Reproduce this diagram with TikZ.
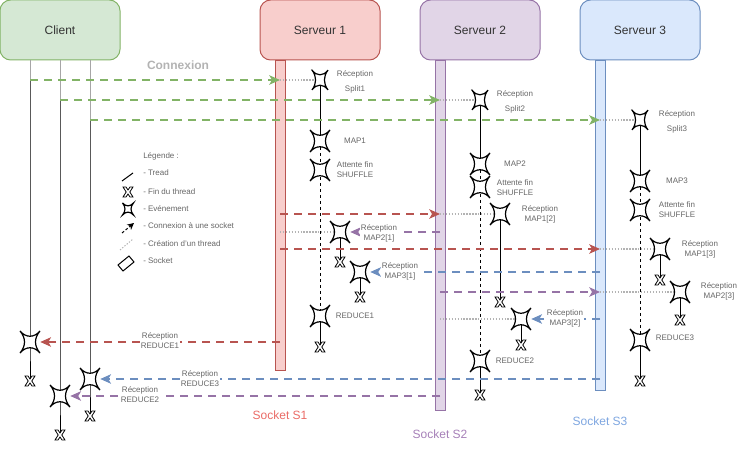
\documentclass[tikz,border=0pt]{standalone}
\usepackage{fontspec}
\setmainfont{Liberation Sans}
\usepackage{xcolor}
\usepackage{tikz}
\usetikzlibrary{arrows.meta}
\usetikzlibrary{positioning,calc}

\definecolor{cligreen}{HTML}{D5E8D4}
\definecolor{clistroke}{HTML}{82B366}
\definecolor{s1fill}{HTML}{F8CECC}
\definecolor{s1stroke}{HTML}{B85450}
\definecolor{s2fill}{HTML}{E1D5E7}
\definecolor{s2stroke}{HTML}{9673A6}
\definecolor{s3fill}{HTML}{DAE8FC}
\definecolor{s3stroke}{HTML}{6C8EBF}
\definecolor{dotgrey}{HTML}{B3B3B3}
\definecolor{txtgrey}{HTML}{666666}
\definecolor{s1txt}{HTML}{EA6B66}
\definecolor{s2txt}{HTML}{A680B8}
\definecolor{s3txt}{HTML}{7EA6E0}

\tikzset{
	actor/.style={draw, rounded corners=8pt, minimum width=90pt, minimum height=45pt, line width=0.75pt, font=\fontsize{9pt}{11pt}\selectfont, text=black!80},
	sockbar/.style={draw, anchor=north, minimum width=7.5pt, inner sep=0pt, line width=0.75pt},
	evtn/.style={inner sep=0pt, minimum width=15pt, minimum height=16.5pt},
	endn/.style={inner sep=0pt, minimum size=7.5pt},
	lbl/.style={font=\fontsize{6pt}{7.5pt}\selectfont, text=txtgrey, align=center, inner sep=1pt},
	tlbl/.style={lbl, fill=white},
	lgd/.style={font=\fontsize{6pt}{7.5pt}\selectfont, text=txtgrey, anchor=west, inner sep=0pt},
	conn/.style={line width=1.5pt, dash pattern=on 6pt off 4.5pt, -{Stealth[length=8pt,width=7pt,inset=2pt]}},
	spawn/.style={dotgrey, line width=1.1pt, dash pattern=on 1pt off 1.2pt},
	thread/.style={line width=0.75pt},
	wait/.style={line width=0.75pt, dash pattern=on 2.25pt off 2.25pt},
	evt/.pic={\draw[fill=white, line width=0.9pt] (-10,-11) .. controls (-4,-4) and (4,-4) .. (10,-11) .. controls (4,-4) and (4,4) .. (10,11) .. controls (4,4) and (-4,4) .. (-10,11) .. controls (-4,4) and (-4,-4) .. cycle;},
	fin/.pic={\draw[fill=white, line width=0.6pt] (-5,-5) -- (-2,-5) -- (0,-2) -- (2,-5) -- (5,-5) -- (1.8,0) -- (5,5) -- (2,5) -- (0,2) -- (-2,5) -- (-5,5) -- (-1.8,0) -- cycle;},
}

\begin{document}
\begin{tikzpicture}[x=0.75pt, y=-0.75pt]
	\useasboundingbox (0,0) rectangle (751,452);
	% acteurs et sockets
	\node[actor, fill=cligreen, draw=clistroke] (client) at (60,30) {Client};
	\node[actor, fill=s1fill, draw=s1stroke] (srv1) at (320,30) {Serveur 1};
	\node[actor, fill=s2fill, draw=s2stroke] (srv2) at (480,30) {Serveur 2};
	\node[actor, fill=s3fill, draw=s3stroke] (srv3) at (640,30) {Serveur 3};
	\node[sockbar, fill=s1fill, draw=s1stroke, minimum height=232.5pt] (sock1) at (280,60) {};
	\node[sockbar, fill=s2fill, draw=s2stroke, minimum height=262.5pt] (sock2) at (440,60) {};
	\node[sockbar, fill=s3fill, draw=s3stroke, minimum height=247.5pt] (sock3) at (600,60) {};
	\coordinate (t1) at (30,80);
	\coordinate (t2) at (60,100);
	\coordinate (t3) at (90,120);
	% evenements
	\foreach \n/\x/\y in {rr1/30/342, rr2/60/396, rr3/90/379,
		sp1/320/80, map1/320/141, att1/320/170, red1/320/316, rm21/340/232, rm31/360/272,
		sp2/480/100, map2/480/164, att2/480/187, red2/480/361, rm12/500/214, rm32/521/319,
		sp3/640/120, map3/640/181, att3/640/210, red3/640/340, rm13/660/249, rm23/680/292}
		\node[evtn] (\n) at (\x,\y) {};
	\foreach \n/\x/\y in {fc1/30/381, fc2/60/435, fc3/90/416,
		f1/320/347, f21/340/262, f31/360/297,
		f2/480/395, f12/500/302, f32/521/345,
		f3/640/381, f13/660/280, f23/680/320}
		\node[endn] (\n) at (\x,\y) {};
	% threads
	\draw[thread, gray!70] (client.south -| t1) -- (t1);
	\draw[thread, gray!70] (client.south -| t2) -- (t2);
	\draw[thread, gray!70] (client.south -| t3) -- (t3);
	\draw[thread] (t1) -- (rr1.center) -- (fc1.center);
	\draw[thread] (t2) -- (rr2.center) -- (fc2.center);
	\draw[thread] (t3) -- (rr3.center) -- (fc3.center);
	\draw[thread] (sp1.center) -- (map1.center);
	\draw[wait] (map1.center) -- (att1.center) -- (red1.center);
	\draw[thread] (red1.center) -- (f1.center);
	\draw[thread] (rm21.center) -- (f21.center);
	\draw[thread] (rm31.center) -- (f31.center);
	\draw[thread] (sp2.center) -- (map2.center);
	\draw[wait] (map2.center) -- (att2.center) -- (red2.center);
	\draw[thread] (red2.center) -- (f2.center);
	\draw[thread] (rm12.center) -- (f12.center);
	\draw[thread] (rm32.center) -- (f32.center);
	\draw[thread] (sp3.center) -- (map3.center);
	\draw[wait] (map3.center) -- (att3.center) -- (red3.center);
	\draw[thread] (red3.center) -- (f3.center);
	\draw[thread] (rm13.center) -- (f13.center);
	\draw[thread] (rm23.center) -- (f23.center);
	% creation des threads
	\draw[spawn] (sp1 -| sock1) -- (sp1.center);
	\draw[spawn] (rm21 -| sock1) -- (rm21.center);
	\draw[spawn] (sp2 -| sock2) -- (sp2.center);
	\draw[spawn] (rm12 -| sock2) -- (rm12.center);
	\draw[spawn] (rm32 -| sock2) -- (rm32.center);
	\draw[spawn] (sp3 -| sock3) -- (sp3.center);
	\draw[spawn] (rm13 -| sock3) -- (rm13.center);
	\draw[spawn] (rm23 -| sock3) -- (rm23.center);
	% connexions
	\draw[conn, clistroke] (t1) -- (t1 -| sock1);
	\draw[conn, clistroke] (t2) -- (t2 -| sock2);
	\draw[conn, clistroke] (t3) -- (t3 -| sock3);
	\draw[conn, s1stroke] (rm12 -| sock1) -- (rm12 -| sock2);
	\draw[conn, s1stroke] (rm13 -| sock1) -- (rm13 -| sock3);
	\draw[conn, s1stroke] (rr1 -| sock1) -- (rr1.east);
	\draw[conn, s2stroke] (rm21 -| sock2) -- (rm21.east);
	\draw[conn, s2stroke] (rm23 -| sock2) -- (rm23 -| sock3);
	\draw[conn, s2stroke] (rr2 -| sock2) -- (rr2.east);
	\draw[conn, s3stroke] (rm31 -| sock3) -- (rm31.east);
	\draw[conn, s3stroke] (rm32 -| sock3) -- (rm32.east);
	\draw[conn, s3stroke] (rr3 -| sock3) -- (rr3.east);
	% formes
	\foreach \n in {rr1,rr2,rr3,map1,att1,red1,rm21,rm31,map2,att2,red2,rm12,rm32,map3,att3,red3,rm13,rm23}
		\pic at (\n) {evt};
	\foreach \n in {sp1,sp2,sp3}
		\pic[xscale=0.8, yscale=0.9] at (\n) {evt};
	\foreach \n in {fc1,fc2,fc3,f1,f21,f31,f2,f12,f32,f3,f13,f23}
		\pic at (\n) {fin};
	% textes
	\node[lbl] (lsp1) at (355,82) {Réception\\[3.75pt]Split1};
	\node[lbl] (lmap1) at (355,141) {MAP1};
	\node[lbl] (latt1) at (355,170) {Attente fin\\SHUFFLE};
	\node[lbl] (lred1) at (355,316) {REDUCE1};
	\node[tlbl] (lrm21) at (379,233) {Réception\\MAP2[1]};
	\node[tlbl] (lrm31) at (400,271) {Réception\\MAP3[1]};
	\node[lbl] (lsp2) at (515,102) {Réception\\[3.75pt]Split2};
	\node[lbl] (lmap2) at (515,164) {MAP2};
	\node[lbl] (latt2) at (515,188) {Attente fin\\SHUFFLE};
	\node[lbl] (lred2) at (515,361) {REDUCE2};
	\node[lbl] (lrm12) at (540,214) {Réception\\MAP1[2]};
	\node[tlbl] (lrm32) at (565,318) {Réception\\MAP3[2]};
	\node[lbl] (lsp3) at (677,122) {Réception\\[3.75pt]Split3};
	\node[lbl] (lmap3) at (677,181) {MAP3};
	\node[lbl] (latt3) at (677,210) {Attente fin\\SHUFFLE};
	\node[lbl] (lred3) at (675,338) {REDUCE3};
	\node[lbl] (lrm13) at (700,249) {Réception\\MAP1[3]};
	\node[lbl] (lrm23) at (719,291) {Réception\\MAP2[3]};
	\node[tlbl] (lrr1) at (160,341) {Réception\\REDUCE1};
	\node[tlbl] (lrr3) at (200,379) {Réception\\REDUCE3};
	\node[tlbl] (lrr2) at (140,395) {Réception\\REDUCE2};
	\node[font=\bfseries\fontsize{9pt}{11pt}\selectfont, text=dotgrey] (cnx) at (178,65) {Connexion};
	\node[font=\fontsize{9pt}{11pt}\selectfont, text=s1txt] (ls1) at (280,415) {Socket S1};
	\node[font=\fontsize{9pt}{11pt}\selectfont, text=s2txt] (ls2) at (440,434) {Socket S2};
	\node[font=\fontsize{9pt}{11pt}\selectfont, text=s3txt] (ls3) at (600,421) {Socket S3};
	% legende
	\node[lgd] (lg0) at (143,156) {Légende :};
	\node[lgd] (lg1) at (143,173) {- Tread};
	\node[lgd] (lg2) at (143,192) {- Fin du thread};
	\node[lgd] (lg3) at (143,209) {- Evénement};
	\node[lgd] (lg4) at (143,226) {- Connexion à une socket};
	\node[lgd] (lg5) at (143,244) {- Création d'un thread};
	\node[lgd] (lg6) at (143,261) {- Socket};
	\draw[thread] (122,181) -- (133,173);
	\pic at (128,192) {fin};
	\pic[scale=0.55] at (128,209) {evt};
	\draw[line width=0.75pt, dash pattern=on 2pt off 1.5pt, -{Stealth[length=5pt,width=5pt,inset=1.5pt]}] (122,233) -- (134,223);
	\draw[spawn, line width=0.75pt] (120,250) -- (133,239);
	\draw[line width=0.75pt] (118,265) -- (129,256) -- (134,262) -- (123,271) -- cycle;
\end{tikzpicture}
\end{document}
